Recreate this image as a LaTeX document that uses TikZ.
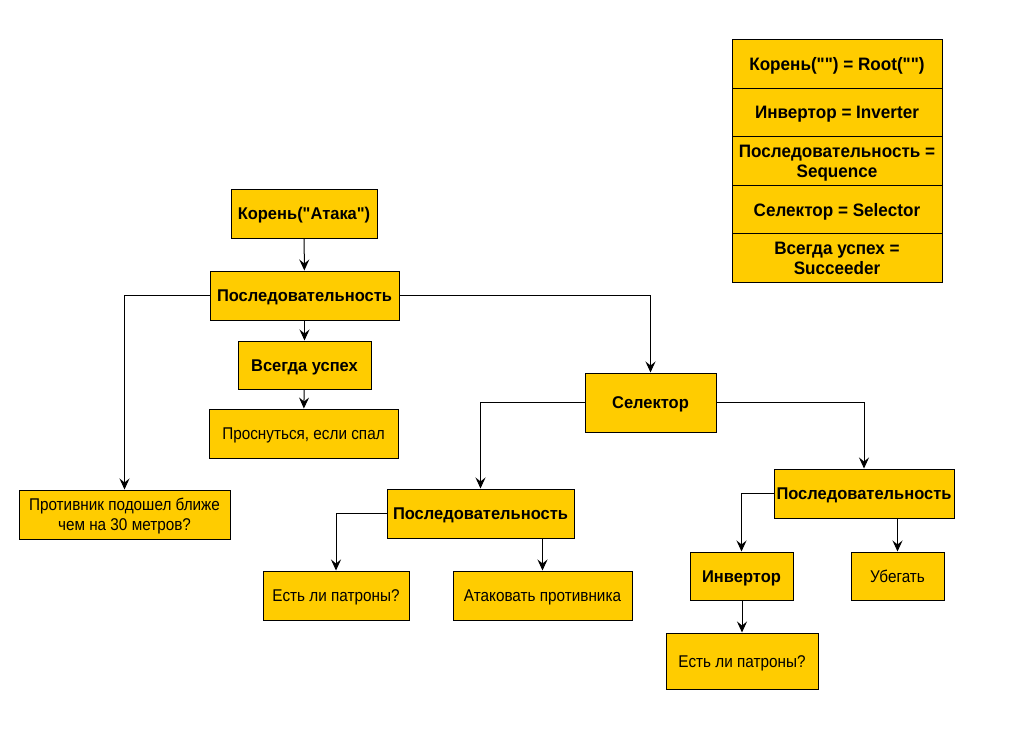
\documentclass[tikz,border=0pt]{standalone}
\usepackage{fontspec}
\setmainfont{Liberation Sans}[Ligatures=TeXOff]
\newfontfamily\leaffont{Liberation Sans}[Ligatures=TeXOff, FakeStretch=0.9]
\newfontfamily\cmpfont{Liberation Sans}[Ligatures=TeXOff, FakeStretch=0.97]
\newfontfamily\legfont{Liberation Sans}[Ligatures=TeXOff, FakeStretch=0.95]
\usetikzlibrary{arrows.meta}
\definecolor{boxfill}{HTML}{FFCC00}
\begin{document}
\begin{tikzpicture}[x=1pt,y=-1pt,
  bx/.style={draw=black, fill=boxfill, line width=1pt, inner sep=2pt, align=center, text depth=0pt,
    font=\leaffont\fontsize{17}{19.5}\selectfont},
  one/.style={text height=12.2pt},
  cmp/.style={bx, one, font=\cmpfont\bfseries\fontsize{17}{19.5}\selectfont},
  leg/.style={bx, inner xsep=0pt, minimum width=210pt, minimum height=48.6pt, font=\legfont\bfseries\fontsize{18}{20}\selectfont},
  link/.style={line width=1pt, -{Stealth[length=11pt,width=10pt,inset=4pt]}}]
\useasboundingbox (0,0) rectangle (1009,732);

% legend
\node[leg, text height=13pt] (l1) at (837,63.8) {Корень("") = Root("")};
\node[leg, text height=13pt] (l2) at (837,112.4) {Инвертор = Inverter};
\node[leg] (l3) at (837,161) {Последовательность =\\Sequence};
\node[leg, text height=13pt] (l4) at (837,209.6) {Селектор = Selector};
\node[leg] (l5) at (837,258.2) {Всегда успех =\\Succeeder};

% tree
\node[cmp, minimum width=146pt, minimum height=49pt] (root) at (304,213.5) {Корень("Атака")};
\node[cmp, minimum width=189pt, minimum height=49pt] (seqa) at (304.5,295.5) {Последовательность};
\node[cmp, minimum width=133pt, minimum height=48pt] (succ) at (304.5,365) {Всегда успех};
\node[bx, one, minimum width=189pt, minimum height=49pt] (wake) at (303.5,433.5) {Проснуться, если спал};
\node[bx, minimum width=211pt, minimum height=49pt] (enemy) at (124.5,514.5) {Противник подошел ближе\\чем на 30 метров?};
\node[cmp, minimum width=131pt, minimum height=59pt] (sel) at (650.5,402.5) {Селектор};
\node[cmp, minimum width=187pt, minimum height=49pt] (seqb) at (480.5,513.5) {Последовательность};
\node[bx, one, minimum width=146pt, minimum height=49pt] (ammoa) at (336,595.5) {Есть ли патроны?};
\node[bx, one, minimum width=179pt, minimum height=49pt] (attack) at (542.5,595.5) {Атаковать противника};
\node[cmp, minimum width=180pt, minimum height=49pt] (seqc) at (864,493.5) {Последовательность};
\node[cmp, minimum width=103pt, minimum height=48pt] (inv) at (741.5,576) {Инвертор};
\node[bx, one, minimum width=93pt, minimum height=48pt] (run) at (897.5,576) {Убегать};
\node[bx, one, minimum width=152pt, minimum height=56pt] (ammob) at (742,661) {Есть ли патроны?};

% connectors
\draw[link] (root) -- (seqa);
\draw[link] (seqa) -- (succ);
\draw[link] (succ) -- (wake);
\draw[link] (seqa.west) -| (enemy.north);
\draw[link] (seqa.east) -| (sel.north);
\draw[link] (sel.west) -| (seqb.north);
\draw[link] (sel.east) -| (seqc.north);
\draw[link] (seqb.west) -| (ammoa.north);
\draw[link] (seqb.south -| attack.north) -- (attack.north);
\draw[link] (seqc.west) -| (inv.north);
\draw[link] (seqc.south -| run.north) -- (run.north);
\draw[link] (inv.south -| ammob.north) -- (ammob.north);
\end{tikzpicture}
\end{document}
